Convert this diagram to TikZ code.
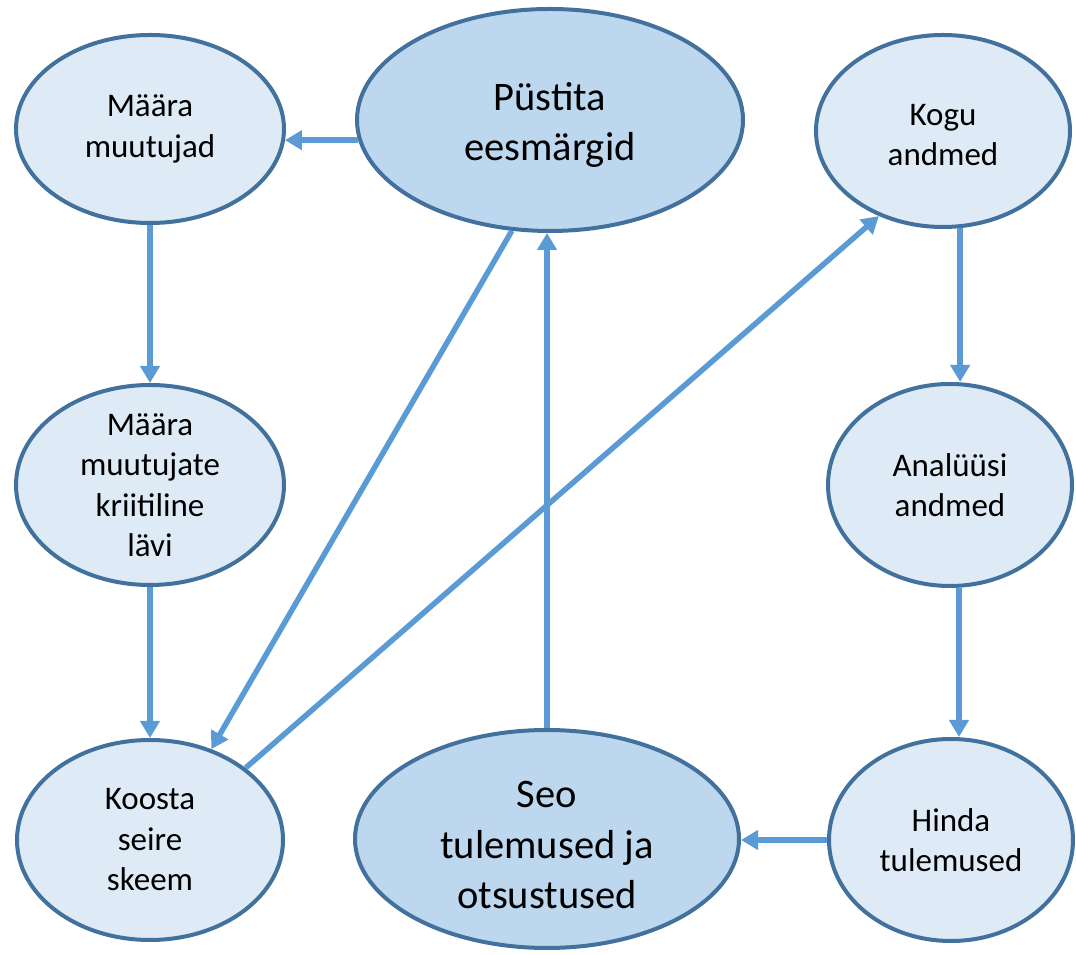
\documentclass[tikz,border=0pt]{standalone}
\usepackage{fontspec}
\setmainfont{Carlito}
\usetikzlibrary{shapes.geometric,arrows.meta}
\definecolor{bord}{HTML}{41719C}
\definecolor{lfill}{HTML}{DEEBF7}
\definecolor{dfill}{HTML}{BDD7EE}
\definecolor{arrc}{HTML}{5B9BD5}
\newcommand\firstup[1]{\rule{0pt}{#1em}}
\begin{document}
\begin{tikzpicture}[x=1pt,y=1pt,
  ell/.style={ellipse, draw=bord, line width=4pt, inner sep=-10pt, outer sep=2pt, align=center, text=black},
  small/.style={ell, fill=lfill, font=\fontsize{33}{40.5}\selectfont},
  big/.style={ell, fill=dfill, font=\fontsize{40.5}{50.5}\selectfont},
  arr/.style={draw=arrc, line width=5.5pt, -{Triangle[length=17pt,width=19pt]}}]
\useasboundingbox (0,0) rectangle (1076,955);
% nodes
\node[small, minimum width=268pt, minimum height=188pt] (m) at (150,826) {Määra\\muutujad};
\node[big,   minimum width=386pt, minimum height=222pt] (p) at (550,835) {\firstup{0.95}Püstita\\eesmärgid};
\node[small, minimum width=254pt, minimum height=192pt] (g) at (943,824) {\firstup{0.9}Kogu\\andmed};
\node[small, minimum width=268pt, minimum height=200pt] (k) at (150,470) {Määra\\muutujate\\kriitiline\\lävi};
\node[small, minimum width=244pt, minimum height=202pt] (a) at (950,470) {Analüüsi\\andmed};
\node[small, minimum width=266pt, minimum height=200pt] (c) at (150,115) {Koosta\\seire\\skeem};
\node[big,   minimum width=384pt, minimum height=218pt] (s) at (547,116) {\firstup{0.95}Seo\\tulemused ja\\otsustused};
\node[small, minimum width=244pt, minimum height=202pt] (h) at (951,115) {Hinda\\tulemused};
% connectors
\draw[arr] (p.186) -- (m.-5 |- p.186);
\draw[arr] (m.south) -- (k.north);
\draw[arr] (k.south) -- (c.north);
\draw[arr] (p.251) -- (c.56);
\draw[arr] (c.37) -- (g.233);
\draw[arr] (s.north) -- (s.north |- p.south);
\draw[arr] (g.-80) -- (g.-80 |- a.north);
\draw[arr] (a.-85.5) -- (a.-85.5 |- h.north);
\draw[arr] (h.west) -- (h.west -| s.east);
\end{tikzpicture}
\end{document}
